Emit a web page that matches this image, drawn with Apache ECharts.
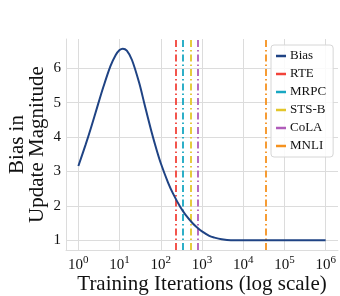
<!DOCTYPE html>
<html>
<head>
<meta charset="utf-8">
<script src="https://cdn.jsdelivr.net/npm/echarts@6/dist/echarts.min.js"></script>
<style>html,body{margin:0;padding:0;background:#fff}#c{width:340px;height:296px}</style>
</head>
<body>
<div id="c"></div>
<script>
// Training iterations (x) and bias in update magnitude (y)
const iterations = [1, 1.5, 2, 3, 4, 6, 8, 10, 12, 15, 20, 30, 40, 60, 80, 100, 150, 200, 300, 400, 600, 800, 1000, 1500, 2000, 3000, 5000, 10000, 100000, 1000000];
const bias = [3.16, 3.78, 4.25, 4.95, 5.44, 6.06, 6.38, 6.53, 6.57, 6.51, 6.24, 5.57, 4.97, 4.14, 3.61, 3.24, 2.68, 2.35, 1.96, 1.74, 1.49, 1.35, 1.26, 1.13, 1.08, 1.03, 1.00, 1.00, 1.00, 1.00];
// Task training lengths (vertical markers)
const tasks = ['RTE', 'MRPC', 'STS-B', 'CoLA', 'MNLI'];
const taskIters = [234, 344, 540, 795, 36000];
const taskColors = ['#f2433a', '#18a7c2', '#e3c62a', '#b05cba', '#f5921f'];
const yTicks = [1, 2, 3, 4, 5, 6];

const FONT = 'Liberation Serif';
const chart = echarts.init(document.getElementById('c'), null, {renderer: 'canvas'});

const series = [{
  name: 'Bias', type: 'line', data: iterations.map((t, i) => [t, bias[i]]),
  showSymbol: false, smooth: 0.3, color: '#1f4384',
  lineStyle: {width: 2, color: '#1f4384'}, z: 5
}];
tasks.forEach((n, i) => {
  series.push({
    name: n, type: 'line', data: [], color: taskColors[i],
    markLine: {
      silent: true, symbol: ['none', 'none'], label: {show: false},
      lineStyle: {color: taskColors[i], width: 1.8, type: [7, 3, 1.5, 3], opacity: 1},
      data: [{xAxis: taskIters[i]}]
    }
  });
});

chart.setOption({
  animation: false,
  backgroundColor: '#fff',
  grid: {left: 66, top: 39, right: 2, bottom: 46, containLabel: false, outerBoundsMode: 'none'},
  xAxis: {
    type: 'log', logBase: 10, min: Math.pow(10, -0.3), max: Math.pow(10, 6.3),
    name: 'Training Iterations (log scale)', nameLocation: 'middle', nameGap: 24, nameMoveOverlap: false,
    nameTextStyle: {fontFamily: FONT, fontSize: 21, color: '#111'},
    axisLine: {show: true, lineStyle: {color: '#dcdcdc', width: 1}},
    axisTick: {show: false},
    splitLine: {show: true, showMinLine: false, showMaxLine: false, lineStyle: {color: '#dcdcdc', width: 1}},
    axisLabel: {
      showMinLabel: false, showMaxLabel: false, margin: 5,
      formatter: v => {
        const k = Math.round(Math.log10(v));
        if (Math.abs(Math.log10(v) - k) > 1e-6) return '';
        return '{b|10}{s|' + k + '}';
      },
      rich: {
        b: {fontFamily: FONT, fontSize: 15, color: '#111', verticalAlign: 'bottom', lineHeight: 18},
        s: {fontFamily: FONT, fontSize: 11, color: '#111', verticalAlign: 'top', lineHeight: 18, padding: [0, 0, 7, 0]}
      }
    }
  },
  yAxis: {
    type: 'value', min: 0.72, max: 6.85,
    name: 'Bias in\nUpdate Magnitude', nameLocation: 'middle', nameGap: 19, nameMoveOverlap: false,
    nameTextStyle: {fontFamily: FONT, fontSize: 21, color: '#111', lineHeight: 20},
    axisLine: {show: true, lineStyle: {color: '#dcdcdc', width: 1}},
    axisTick: {show: false},
    splitLine: {show: true, showMinLine: false, showMaxLine: false, lineStyle: {color: '#dcdcdc', width: 1}},
    axisLabel: {
      margin: 5, fontFamily: FONT, fontSize: 15, color: '#111',
      showMinLabel: false, showMaxLabel: false,
      formatter: v => yTicks.includes(Math.round(v * 1000) / 1000) ? String(v) : ''
    }
  },
  legend: {
    left: 271, top: 45, orient: 'vertical', icon: 'rect', itemWidth: 10, itemHeight: 2.5,
    itemGap: 4, padding: [4, 7, 4, 5],
    backgroundColor: 'rgba(255,255,255,0.85)', borderColor: '#d6d6d6', borderWidth: 1, borderRadius: 3,
    textStyle: {fontFamily: FONT, fontSize: 13, color: '#111', lineHeight: 14, padding: [0, 0, 0, -1]},
    data: ['Bias'].concat(tasks)
  },
  series: series
});
</script>
</body>
</html>
